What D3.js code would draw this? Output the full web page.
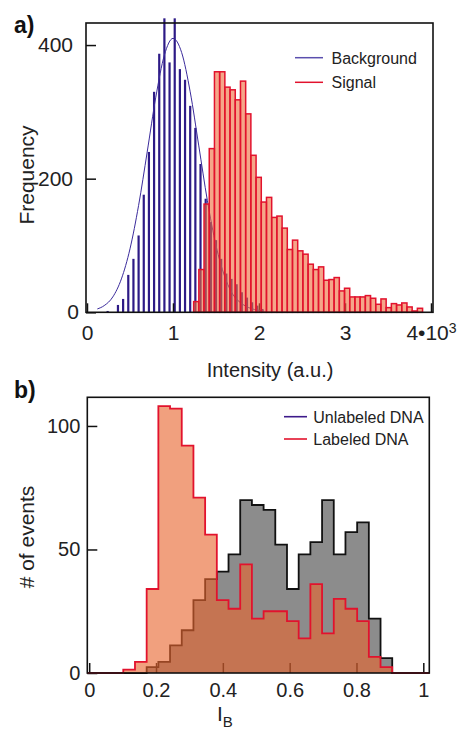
<!DOCTYPE html>
<html><head><meta charset="utf-8">
<script src="https://cdn.jsdelivr.net/npm/d3@7"></script>
<style>
body{margin:0;background:#fff;}
svg{display:block;font-family:"Liberation Sans",Arial,Helvetica,sans-serif;}
</style></head><body><svg id="chart" width="458" height="730"></svg>
<script>
// ---------- Panel a data ----------
const bgIntensity = [240, 360, 420, 480, 540, 600, 660, 720, 780, 840, 900, 960, 1020, 1080, 1140, 1200, 1260, 1320, 1380, 1440, 1500, 1560, 1620, 1680, 1740, 1800, 1860, 1920, 1980, 2040];
const bgFrequency = [2, 11, 20, 56, 80, 115, 176, 240, 330, 387, 440, 374, 440, 364, 348, 309, 276, 222, 170, 135, 108, 80, 58, 50, 42, 30, 22, 15, 10, 5];
const sigBinStart = 1240;
const sigBinWidth = 60.5;
const sigFrequency = [16, 64, 162, 245, 360, 360, 337, 333, 318, 346, 297, 235, 202, 165, 172, 142, 144, 126, 94, 108, 92, 87, 72, 64, 68, 48, 49, 52, 32, 36, 23, 23, 23, 25, 21, 12, 20, 7, 13, 11, 14, 8, 2, 6];
const fitIntensity = [120, 200, 300, 400, 500, 600, 700, 800, 900, 1000, 1100, 1200, 1300, 1400, 1500, 1600, 1700, 1800, 1900, 2000, 2060];
const fitFrequency = [5, 10, 23, 50, 95, 160, 240, 322, 385, 410, 389, 330, 249, 167, 100, 54, 26, 13, 6, 3, 2];
const aXTicks = [0, 1000, 2000, 3000, 4000];
const aXTickLabels = ["0", "1", "2", "3", "4•10"];
const aYTicks = [0, 200, 400];
const aLegend = ["Background", "Signal"];

// ---------- Panel b data ----------
const ibBinStart = 0.102;
const ibBinWidth = 0.035;
const unlabeledCounts = [0, 0, 2.4, 4.5, 11.2, 17.3, 29.5, 38, 41, 48, 70, 68, 66, 52, 34, 48, 53, 70, 48, 57, 61, 22, 6];
const labeledCounts = [1.4, 4.5, 34, 108, 107, 92, 71, 56, 29.5, 26, 44, 22, 25, 25, 21, 14, 36, 16, 30, 26, 21, 6.5, 2.4];
const bXTicks = [0, 0.2, 0.4, 0.6, 0.8, 1];
const bXTickLabels = ["0", "0.2", "0.4", "0.6", "0.8", "1"];
const bYTicks = [0, 50, 100];
const bLegend = ["Unlabeled DNA", "Labeled DNA"];

// ---------- colours ----------
const blue = "#2d1a86", blueLegend = "#5b4fae", red = "#e2122d";
const txt = "#222";

const svg = d3.select("#chart");

function styleAxis(g, size) {
  g.attr("font-size", size).attr("font-family", null);
  g.select(".domain").remove();
  g.selectAll(".tick line").attr("stroke", "#111").attr("stroke-width", 1.5);
  g.selectAll(".tick text").attr("fill", txt);
}

// ================= Panel a =================
const A = {L: 86, T: 23, R: 433, B: 312.3};
const xa = d3.scaleLinear().domain([0, 4000]).range([87, 431]);
const ya = d3.scaleLinear().domain([0, 433]).range([A.B, A.T]);
const ga = svg.append("g");

// background bars
ga.append("g").selectAll("rect").data(bgIntensity.map((d, i) => ({x: d, v: bgFrequency[i]})))
  .join("rect")
  .attr("x", d => xa(d.x) - 1.1).attr("width", 2.2)
  .attr("y", d => ya(d.v)).attr("height", d => ya(0) - ya(d.v))
  .attr("fill", blue);

// axes (ticks inside)
const gax = ga.append("g").attr("transform", `translate(0,${A.B})`)
  .call(d3.axisBottom(xa).tickValues(aXTicks).tickSizeInner(-9).tickSizeOuter(0).tickPadding(13)
    .tickFormat((d, i) => aXTickLabels[i]));
styleAxis(gax, 21);
gax.selectAll(".tick text").filter((d, i) => i === aXTicks.length - 1)
  .append("tspan").attr("dy", "-0.5em").attr("font-size", 14).text("3");

const gay = ga.append("g").attr("transform", `translate(${A.L},0)`)
  .call(d3.axisLeft(ya).tickValues(aYTicks).tickSizeInner(-10).tickSizeOuter(0).tickPadding(13));
styleAxis(gay, 21);
gay.selectAll(".tick text").filter(d => d === 0).attr("x", -7).attr("dy", "0.3em");

// gaussian fit
ga.append("path")
  .datum(fitIntensity.map((d, i) => [d, fitFrequency[i]]))
  .attr("d", d3.line().x(d => xa(d[0])).y(d => ya(d[1])).curve(d3.curveMonotoneX))
  .attr("fill", "none").attr("stroke", "#3b2b9c").attr("stroke-width", 1);

// signal bars
ga.append("g").selectAll("rect").data(sigFrequency.map((v, i) => ({x0: sigBinStart + i * sigBinWidth, v})))
  .join("rect")
  .attr("x", d => xa(d.x0)).attr("width", d => xa(d.x0 + sigBinWidth) - xa(d.x0))
  .attr("y", d => ya(d.v)).attr("height", d => ya(0) - ya(d.v))
  .attr("fill", "#ee6a3a").attr("fill-opacity", 0.6)
  .attr("stroke", red).attr("stroke-width", 1.5);

// frame
ga.append("rect").attr("x", A.L).attr("y", A.T).attr("width", A.R - A.L).attr("height", A.B - A.T)
  .attr("fill", "none").attr("stroke", "#111").attr("stroke-width", 1.6);

// legend
const legA = ga.append("g");
aLegend.forEach((t, i) => {
  const y = 57.7 + i * 24.6;
  legA.append("line").attr("x1", 295).attr("x2", 323).attr("y1", y).attr("y2", y)
    .attr("stroke", i === 0 ? blueLegend : red).attr("stroke-width", 1.5);
  legA.append("text").attr("x", 331.5).attr("y", y + 5.8).attr("font-size", 16).attr("fill", txt).text(t);
});

// labels
ga.append("text").attr("transform", "translate(34,175) rotate(-90)").attr("text-anchor", "middle")
  .attr("font-size", 21).attr("fill", txt).text("Frequency");
ga.append("text").attr("x", 270).attr("y", 377).attr("text-anchor", "middle")
  .attr("font-size", 20).attr("fill", txt).text("Intensity (a.u.)");
ga.append("text").attr("x", 14).attr("y", 33).attr("font-size", 23).attr("font-weight", "bold")
  .attr("fill", "#111").text("a)");

// ================= Panel b =================
const Bp = {L: 87.3, T: 397.3, R: 429.3, B: 673};
const xb = d3.scaleLinear().domain([0, 1]).range([89.2, 423.3]);
const yb = d3.scaleLinear().domain([0, 111.6]).range([Bp.B, Bp.T]);
const gb = svg.append("g");
const xLeft = xb.invert(Bp.L), xRight = xb.invert(Bp.R);

function stepPoints(counts) {
  const pts = [[xLeft, 0]];
  counts.forEach((v, i) => pts.push([ibBinStart + i * ibBinWidth, v]));
  pts.push([ibBinStart + counts.length * ibBinWidth, 0]);
  pts.push([xRight, 0]);
  return pts;
}
const area = d3.area().x(d => xb(d[0])).y0(yb(0)).y1(d => yb(d[1])).curve(d3.curveStepAfter);
const line = d3.line().x(d => xb(d[0])).y(d => yb(d[1])).curve(d3.curveStepAfter);

const unl = stepPoints(unlabeledCounts);
const lab = stepPoints(labeledCounts);

gb.append("path").datum(unl).attr("d", area).attr("fill", "#8c8c8c");
gb.append("path").datum(unl).attr("d", line).attr("fill", "none").attr("stroke", "#111").attr("stroke-width", 1.8);

const gbx = gb.append("g").attr("transform", `translate(0,${Bp.B})`)
  .call(d3.axisBottom(xb).tickValues(bXTicks).tickSizeInner(-10).tickSizeOuter(0).tickPadding(10)
    .tickFormat((d, i) => bXTickLabels[i]));
styleAxis(gbx, 20);
const gby = gb.append("g").attr("transform", `translate(${Bp.L},0)`)
  .call(d3.axisLeft(yb).tickValues(bYTicks).tickSizeInner(-10).tickSizeOuter(0).tickPadding(7));
styleAxis(gby, 20);

gb.append("path").datum(lab).attr("d", area).attr("fill", "#e9652f").attr("fill-opacity", 0.62);
gb.append("path").datum(lab).attr("d", line).attr("fill", "none").attr("stroke", red).attr("stroke-width", 1.8);

gb.append("rect").attr("x", Bp.L).attr("y", Bp.T).attr("width", Bp.R - Bp.L).attr("height", Bp.B - Bp.T)
  .attr("fill", "none").attr("stroke", "#111").attr("stroke-width", 1.6);

const legB = gb.append("g");
bLegend.forEach((t, i) => {
  const y = 416.7 + i * 22.3;
  legB.append("line").attr("x1", 284).attr("x2", 307).attr("y1", y).attr("y2", y)
    .attr("stroke", i === 0 ? "#3d1a8a" : red).attr("stroke-width", 1.6);
  legB.append("text").attr("x", 313.3).attr("y", y + 5.8).attr("font-size", 16).attr("fill", txt).text(t);
});

gb.append("text").attr("transform", "translate(34,537) rotate(-90)").attr("text-anchor", "middle")
  .attr("font-size", 21).attr("fill", txt).text("# of events");
const ib = gb.append("text").attr("x", 217).attr("y", 721).attr("font-size", 21).attr("fill", txt);
ib.append("tspan").text("I");
ib.append("tspan").attr("dy", 6).attr("font-size", 15).text("B");
gb.append("text").attr("x", 14).attr("y", 398).attr("font-size", 23).attr("font-weight", "bold")
  .attr("fill", "#111").text("b)");
</script></body></html>
